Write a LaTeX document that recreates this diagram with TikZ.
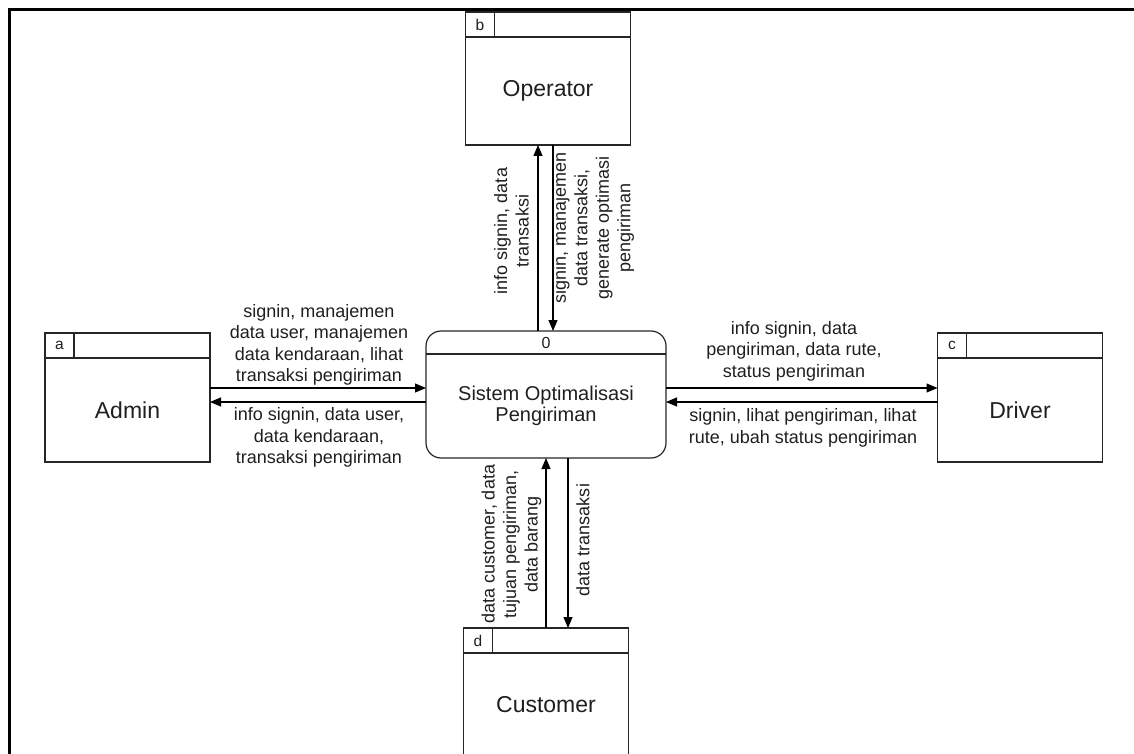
\documentclass[tikz,border=0pt]{standalone}
\usepackage{fontspec}
\setmainfont{Liberation Sans}
\usetikzlibrary{arrows.meta,positioning}
\definecolor{linegray}{gray}{0.15}
\definecolor{textgray}{gray}{0.12}

\begin{document}
\begin{tikzpicture}[x=1pt, y=-1pt,
    entbody/.style={draw=linegray, line width=1.2pt, minimum width=165pt, minimum height=104pt, inner sep=0pt, outer sep=0pt, text=textgray, font=\fontsize{23}{27}\selectfont},
    idcell/.style={draw=linegray, line width=1.2pt, minimum width=29pt, minimum height=25pt, inner sep=0pt, outer sep=0pt, text=textgray, font=\fontsize{15.5}{17}\selectfont},
    hdcell/.style={draw=linegray, line width=1.2pt, minimum width=136pt, minimum height=25pt, inner sep=0pt, outer sep=0pt},
    process/.style={draw=linegray, line width=1.2pt, rounded corners=15pt, minimum width=240pt, minimum height=127pt, inner sep=0pt, outer sep=0pt},
    flowlbl/.style={align=center, inner sep=0pt, text=textgray, font=\fontsize{18}{21.5}\selectfont},
    flow/.style={draw=black, line width=1.1pt, -{Triangle[length=11pt,width=9pt]}}]
    \useasboundingbox (0,0) rectangle (1134,754);
    \draw[line width=3pt] (9,760) -- (9,10) -- (1140,10);

    \node[process] (proc) at (546,394.5) {};
    \node[text=textgray, font=\fontsize{16}{18}\selectfont] (procid) at ([yshift=-11.5pt]proc.north) {0};
    \draw[draw=linegray, line width=1.2pt] ([yshift=-23pt]proc.north west) -- ([yshift=-23pt]proc.north east);
    \node[flowlbl, font=\fontsize{20}{21.5}\selectfont] (proctext) at ([yshift=-11.5pt]proc.center) {Sistem Optimalisasi\\Pengiriman};

    \node[entbody] (admin) at (127.5,410) {Admin};
    \node[idcell, anchor=south west] (adminid) at (admin.north west) {a};
    \node[hdcell, anchor=south west] (adminhd) at (adminid.south east) {};

    \node[entbody, minimum height=108pt] (oper) at (548,91) {Operator};
    \node[idcell, anchor=south west] (operid) at (oper.north west) {b};
    \node[hdcell, anchor=south west] (operhd) at (operid.south east) {};

    \node[entbody] (driver) at (1020,410) {Driver};
    \node[idcell, anchor=south west] (driverid) at (driver.north west) {c};
    \node[hdcell, anchor=south west] (driverhd) at (driverid.south east) {};

    \node[entbody] (cust) at (546,705) {Customer};
    \node[idcell, anchor=south west] (custid) at (cust.north west) {d};
    \node[hdcell, anchor=south west] (custhd) at (custid.south east) {};

    % admin
    \draw[flow] ([yshift=22pt]admin.east) -- ([yshift=22pt]admin.east -| proc.west);
    \draw[flow] ([yshift=-7.5pt]proc.west) -- ([yshift=-7.5pt]proc.west -| admin.east);
    \node[flowlbl] (lbladminin) at (319,345) {signin, manajemen\\data user, manajemen\\data kendaraan, lihat\\transaksi pengiriman};
    \node[flowlbl] (lbladminout) at (319,437.5) {info signin, data user,\\data kendaraan,\\transaksi pengiriman};

    % driver
    \draw[flow] ([yshift=6.5pt]proc.east) -- ([yshift=6.5pt]proc.east -| driver.west);
    \draw[flow] ([yshift=8pt]driver.west) -- ([yshift=8pt]driver.west -| proc.east);
    \node[flowlbl] (lbldriverout) at (794,351) {info signin, data\\pengiriman, data rute,\\status pengiriman};
    \node[flowlbl] (lbldriverin) at (803,428) {signin, lihat pengiriman, lihat\\rute, ubah status pengiriman};

    % operator
    \draw[flow] ([xshift=-8pt]proc.north) -- ([xshift=-8pt]proc.north |- oper.south);
    \draw[flow] ([xshift=7pt]proc.north |- oper.south) -- ([xshift=7pt]proc.north);
    \node[flowlbl, rotate=90] (lbloperout) at (511.5,231) {info signin, data\\transaksi};
    \node[flowlbl, rotate=90] (lbloperin) at (593.5,228) {signin, manajemen\\data transaksi,\\generate optimasi\\pengiriman};

    % customer
    \draw[flow] (proc.south |- custid.north) -- (proc.south);
    \draw[flow] ([xshift=22pt]proc.south) -- ([xshift=22pt]proc.south |- custid.north);
    \node[flowlbl, rotate=90] (lblcustin) at (511.5,544) {data customer, data\\tujuan pengiriman,\\data barang};
    \node[flowlbl, rotate=90] (lblcustout) at (583,540) {data transaksi};
\end{tikzpicture}
\end{document}
